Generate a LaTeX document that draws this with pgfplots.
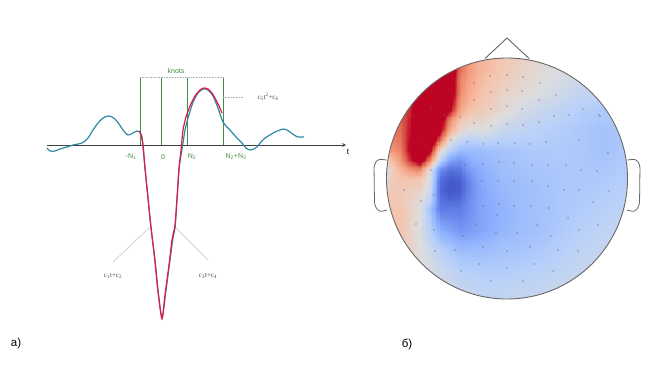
\documentclass[border=0pt]{standalone}
\usepackage{fontspec}
\setmainfont{Liberation Sans}
\newfontfamily\timesfont{Liberation Serif}
\usepackage{pgfplots}
\usepackage{pgfplotstable}
\usepgfplotslibrary{patchplots}
\pgfplotsset{compat=1.18}
\definecolor{sig}{RGB}{45,135,165}
\definecolor{fit}{RGB}{228,25,70}
\definecolor{knot}{RGB}{70,140,70}
\definecolor{lab}{RGB}{70,70,70}
% coarse potential grid (x = 380..640, y = 50..310, step 20)
\pgfplotstableread{
x y v
380 50 0.80
400 50 0.85
420 50 0.95
440 50 1.15
460 50 0.80
480 50 0.68
500 50 0.62
520 50 0.57
540 50 0.52
560 50 0.50
580 50 0.48
600 50 0.47
620 50 0.46
640 50 0.46
380 70 0.80
400 70 0.85
420 70 0.95
440 70 1.20
460 70 0.78
480 70 0.67
500 70 0.61
520 70 0.56
540 70 0.52
560 70 0.49
580 70 0.47
600 70 0.46
620 70 0.45
640 70 0.45
380 90 0.80
400 90 0.88
420 90 1.20
440 90 1.20
460 90 0.76
480 90 0.64
500 90 0.57
520 90 0.53
540 90 0.49
560 90 0.45
580 90 0.42
600 90 0.41
620 90 0.41
640 90 0.41
380 110 0.82
400 110 0.92
420 110 1.20
440 110 1.20
460 110 0.72
480 110 0.60
500 110 0.53
520 110 0.47
540 110 0.43
560 110 0.40
580 110 0.37
600 110 0.35
620 110 0.35
640 110 0.35
380 130 0.82
400 130 0.95
420 130 1.20
440 130 1.00
460 130 0.60
480 130 0.50
500 130 0.43
520 130 0.40
540 130 0.38
560 130 0.36
580 130 0.34
600 130 0.32
620 130 0.34
640 130 0.36
380 150 0.65
400 150 0.85
420 150 1.20
440 150 0.45
460 150 0.28
480 150 0.30
500 150 0.32
520 150 0.34
540 150 0.35
560 150 0.35
580 150 0.34
600 150 0.32
620 150 0.34
640 150 0.36
380 170 0.20
400 170 0.55
420 170 0.75
440 170 0.15
460 170 0.10
480 170 0.24
500 170 0.30
520 170 0.32
540 170 0.33
560 170 0.34
580 170 0.34
600 170 0.34
620 170 0.36
640 170 0.38
380 190 0.35
400 190 0.60
420 190 0.56
440 190 0.02
460 190 0.03
480 190 0.22
500 190 0.28
520 190 0.30
540 190 0.32
560 190 0.34
580 190 0.35
600 190 0.36
620 190 0.38
640 190 0.40
380 210 0.62
400 210 0.62
420 210 0.50
440 210 0.12
460 210 0.12
480 210 0.22
500 210 0.26
520 210 0.30
540 210 0.32
560 210 0.34
580 210 0.36
600 210 0.38
620 210 0.40
640 210 0.42
380 230 0.66
400 230 0.62
420 230 0.48
440 230 0.25
460 230 0.18
480 230 0.22
500 230 0.27
520 230 0.30
540 230 0.32
560 230 0.35
580 230 0.38
600 230 0.40
620 230 0.42
640 230 0.44
380 250 0.66
400 250 0.62
420 250 0.50
440 250 0.38
460 250 0.30
480 250 0.30
500 250 0.32
520 250 0.33
540 250 0.35
560 250 0.37
580 250 0.40
600 250 0.42
620 250 0.44
640 250 0.46
380 270 0.64
400 270 0.60
420 270 0.52
440 270 0.44
460 270 0.38
480 270 0.36
500 270 0.36
520 270 0.37
540 270 0.38
560 270 0.40
580 270 0.42
600 270 0.44
620 270 0.46
640 270 0.48
380 290 0.62
400 290 0.58
420 290 0.50
440 290 0.46
460 290 0.43
480 290 0.40
500 290 0.40
520 290 0.41
540 290 0.42
560 290 0.44
580 290 0.46
600 290 0.48
620 290 0.50
640 290 0.50
380 310 0.60
400 310 0.56
420 310 0.50
440 310 0.47
460 310 0.45
480 310 0.43
500 310 0.43
520 310 0.44
540 310 0.45
560 310 0.46
580 310 0.48
600 310 0.50
620 310 0.50
640 310 0.50
}\coarse
% fine grid, upper-left quadrant (x = 380..480, y = 50..210, step 10)
\pgfplotstableread{
x y v
380 50 0.80
390 50 0.80
400 50 0.82
410 50 0.85
420 50 0.95
430 50 1.10
440 50 1.20
450 50 1.20
460 50 0.80
470 50 0.72
480 50 0.68
380 60 0.80
390 60 0.80
400 60 0.82
410 60 0.85
420 60 0.95
430 60 1.10
440 60 1.20
450 60 1.20
460 60 0.82
470 60 0.73
480 60 0.675
380 70 0.80
390 70 0.80
400 70 0.82
410 70 0.85
420 70 0.95
430 70 1.05
440 70 1.20
450 70 1.18
460 70 0.84
470 70 0.74
480 70 0.67
380 80 0.80
390 80 0.82
400 80 0.84
410 80 0.86
420 80 0.90
430 80 1.00
440 80 1.20
450 80 1.16
460 80 0.80
470 80 0.72
480 80 0.655
380 90 0.82
390 90 0.84
400 90 0.86
410 90 0.88
420 90 1.02
430 90 1.20
440 90 1.20
450 90 1.15
460 90 0.80
470 90 0.70
480 90 0.64
380 100 0.84
390 100 0.85
400 100 0.87
410 100 0.91
420 100 1.15
430 100 1.20
440 100 1.20
450 100 1.10
460 100 0.76
470 100 0.67
480 100 0.62
380 110 0.84
390 110 0.85
400 110 0.87
410 110 0.95
420 110 1.20
430 110 1.20
440 110 1.20
450 110 1.02
460 110 0.72
470 110 0.63
480 110 0.60
380 120 0.83
390 120 0.84
400 120 0.86
410 120 0.97
420 120 1.20
430 120 1.20
440 120 1.12
450 120 0.78
460 120 0.62
470 120 0.56
480 120 0.55
380 130 0.82
390 130 0.83
400 130 0.85
410 130 0.98
420 130 1.20
430 130 1.20
440 130 1.05
450 130 0.70
460 130 0.55
470 130 0.50
480 130 0.50
380 140 0.78
390 140 0.80
400 140 0.83
410 140 1.00
420 140 1.20
430 140 1.18
440 140 0.85
450 140 0.52
460 140 0.42
470 140 0.38
480 140 0.40
380 150 0.70
390 150 0.75
400 150 0.80
410 150 1.02
420 150 1.20
430 150 1.05
440 150 0.55
450 150 0.38
460 150 0.30
470 150 0.30
480 150 0.30
380 160 0.40
390 160 0.62
400 160 0.75
410 160 0.95
420 160 1.12
430 160 0.80
440 160 0.40
450 160 0.22
460 160 0.18
470 160 0.25
480 160 0.27
380 170 0.30
390 170 0.55
400 170 0.66
410 170 0.75
420 170 0.78
430 170 0.50
440 170 0.15
450 170 0.08
460 170 0.10
470 170 0.20
480 170 0.24
380 180 0.35
390 180 0.58
400 180 0.62
410 180 0.62
420 180 0.60
430 180 0.48
440 180 0.08
450 180 0.03
460 180 0.05
470 180 0.15
480 180 0.23
380 190 0.50
390 190 0.60
400 190 0.60
410 190 0.58
420 190 0.56
430 190 0.45
440 190 0.06
450 190 0.02
460 190 0.04
470 190 0.14
480 190 0.22
380 200 0.60
390 200 0.62
400 200 0.60
410 200 0.56
420 200 0.52
430 200 0.40
440 200 0.09
450 200 0.06
460 200 0.08
470 200 0.16
480 200 0.22
380 210 0.62
390 210 0.62
400 210 0.62
410 210 0.56
420 210 0.50
430 210 0.31
440 210 0.12
450 210 0.12
460 210 0.12
470 210 0.17
480 210 0.22
}\fine
\begin{document}
\begin{tikzpicture}
\begin{axis}[
 width=662bp, height=368bp, scale only axis,
 xmin=0, xmax=662, ymin=0, ymax=368, y dir=reverse,
 hide axis, clip=false,
 colormap={cw}{rgb255(0cm)=(59,76,192) rgb255(1.25cm)=(98,130,234) rgb255(2.5cm)=(141,176,254) rgb255(3.75cm)=(184,208,249) rgb255(5cm)=(221,221,221) rgb255(6.25cm)=(245,196,173) rgb255(7.5cm)=(244,154,123) rgb255(8.75cm)=(222,96,77) rgb255(10cm)=(190,4,36) rgb255(12cm)=(190,4,36)},
 point meta min=0, point meta max=1.2,
]
\path (axis cs:0,0) rectangle (axis cs:662,368);

% ---------------- panel a ----------------
\addplot[knot, line width=0.8pt] coordinates {(140,78) (140,145)};
\addplot[knot, line width=0.8pt] coordinates {(161,78) (161,145)};
\addplot[knot, line width=0.8pt] coordinates {(187,78) (187,145)};
\addplot[knot, line width=0.8pt] coordinates {(223,78) (223,145)};
\addplot[gray!60, densely dotted, line width=0.6pt] coordinates {(140,77) (223,77)};
\addplot[gray!60, densely dotted, line width=0.6pt] coordinates {(223,97) (243,97)};
\addplot[black!75, line width=0.7pt, -stealth] coordinates {(47,145) (346,145)};
\addplot[gray!50, line width=0.5pt] coordinates {(113,262) (149,228)};
\addplot[gray!50, line width=0.5pt] coordinates {(175,227) (208,260)};
\addplot[sig, line width=1.2pt, smooth, tension=0.5] coordinates {
(47,148) (50,151) (55,151) (60,149) (67,147) (73,145) (82,143) (88,138) (93,130)
(98,123) (103,118) (108,116) (112,117) (115,119) (119,124) (123,130) (128,135)
(133,133) (137,131) (140,132) (142,137) (143,146) (145,168) (148,198) (151,228)
(155,260) (158,290) (162,317) (166,290) (170,260) (173,238) (175,228) (177,200)
(179,170) (181,155) (183,143) (185,130) (188,118) (191,108) (194,100) (198,93)
(203,89) (208,90) (213,96) (218,108) (223,122) (230,130) (236,137) (242,143)
(246,148) (250,150) (254,149) (257,147) (261,142) (265,138) (270,135) (275,132)
(280,130) (283,129) (287,130) (290,132) (294,135) (298,137) (301,137) (304,137)};
\addplot[fit, line width=1.2pt, smooth, tension=0.4] coordinates {
(139,131) (141,135) (143,145) (145,168) (148,198) (151,227) (155,262) (158,292)
(162,319) (165,295) (169,265) (172,240) (175,225) (177,198) (179,168) (181,150)
(183,130) (186,117) (190,106) (195,96) (200,90) (204,88) (208,89) (212,93)
(216,100) (219,106) (222,113)};
\node[knot, font=\fontsize{7}{8}\selectfont] at (axis cs:176,71) {knots};
\node[knot, font=\fontsize{7}{8}\selectfont] at (axis cs:131,157) {-N\textsubscript{1}};
\node[knot, font=\fontsize{7}{8}\selectfont] at (axis cs:163,157) {0};
\node[knot, font=\fontsize{7}{8}\selectfont] at (axis cs:192,157) {N\textsubscript{2}};
\node[knot, font=\fontsize{7}{8}\selectfont] at (axis cs:236,157) {N\textsubscript{2}+N\textsubscript{3}};
\node[black, font=\fontsize{8}{9}\selectfont] at (axis cs:348,152) {t};
\node[lab, font=\timesfont\fontsize{7}{8}\selectfont, anchor=west] at (axis cs:254,97) {c\textsubscript{5}t\textsuperscript{2}+c\textsubscript{6}};
\node[lab, font=\timesfont\fontsize{7}{8}\selectfont] at (axis cs:113,276) {c\textsubscript{1}t+c\textsubscript{2}};
\node[lab, font=\timesfont\fontsize{7}{8}\selectfont] at (axis cs:208,276) {c\textsubscript{3}t+c\textsubscript{4}};
\node[black, font=\fontsize{11.5}{13}\selectfont] at (axis cs:16,344) {а)};
\node[black, font=\fontsize{11.5}{13}\selectfont] at (axis cs:407,344) {б)};

% ---------------- panel b ----------------
\addplot[surf, shader=interp, patch type=bilinear, mesh/cols=14, point meta=explicit] table[x=x, y=y, meta=v] {\coarse};
\addplot[surf, shader=interp, patch type=bilinear, mesh/cols=11, point meta=explicit] table[x=x, y=y, meta=v] {\fine};
\fill[white, even odd rule] (axis cs:378,48) rectangle (axis cs:642,312) (axis cs:507,178.5) circle [radius=120.5bp];
\addplot[only marks, mark=*, mark size=0.45pt, black!60] coordinates {
(490,76) (507,75) (523,77) (540,83) (474,83) (491,92) (507,90) (522,91) (539,100)
(556,95) (458,95) (474,100) (491,109) (507,106) (522,109) (569,115) (583,109)
(599,115) (554,116) (444,115) (460,117) (474,123) (491,126) (507,124) (523,125)
(539,122) (431,109) (413,116) (451,140) (467,142) (483,144) (498,143) (515,143)
(530,144) (546,142) (579,140) (608,153) (422,138) (416,171) (431,170) (465,165)
(483,164) (499,162) (514,163) (532,165) (548,165) (566,165) (581,170) (597,171)
(404,190) (451,188) (482,181) (498,181) (514,181) (532,181) (548,186) (564,190)
(579,190) (609,191) (421,201) (434,195) (466,201) (483,206) (499,204) (514,206)
(531,206) (549,208) (593,202) (446,218) (497,215) (568,218) (416,224) (476,225)
(537,225) (598,225) (434,230) (463,236) (496,233) (517,233) (551,236) (579,230)
(435,251) (455,250) (483,247) (507,251) (530,247) (558,250) (578,251) (461,271)
(479,264) (507,268) (534,264) (553,271) (491,281) (523,281) (600,116)};
\draw[black!60, line width=0.9pt] (axis cs:507,178.5) circle [radius=120.5bp];
\draw[black!60, line width=0.9pt] (axis cs:485,58.5) -- (axis cs:507,38) -- (axis cs:529,58.5);
\draw[black!60, line width=0.8pt, rounded corners=3bp] (axis cs:386.5,160) -- (axis cs:378,159) -- (axis cs:374,165) -- (axis cs:374.5,205) -- (axis cs:379,212) -- (axis cs:387,210);
\draw[black!60, line width=0.8pt, rounded corners=3bp] (axis cs:627.5,160) -- (axis cs:636,159) -- (axis cs:640,165) -- (axis cs:639.5,205) -- (axis cs:635,212) -- (axis cs:627,210);
\end{axis}
\end{tikzpicture}
\end{document}
